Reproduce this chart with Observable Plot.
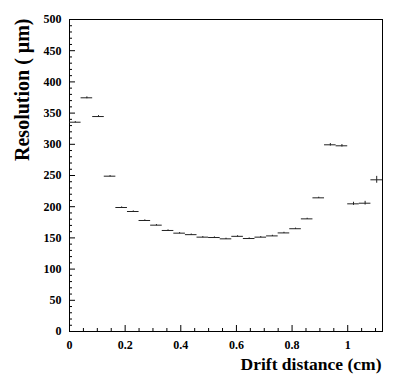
<!DOCTYPE html>
<html>
<head>
<meta charset="utf-8">
<script src="https://cdn.jsdelivr.net/npm/d3@7"></script>
<script src="https://cdn.jsdelivr.net/npm/@observablehq/plot@0.6"></script>
<style>
  html, body { margin: 0; padding: 0; background: #fff; }
  svg text { font-family: "Liberation Serif", "Times New Roman", serif; font-weight: bold; }
</style>
</head>
<body>
<div id="chart"></div>
<script>
// Bin centres (cm) of the drift-distance histogram, bin half-width 0.0208 cm
const binCenters = [0.0208, 0.0625, 0.1042, 0.1458, 0.1875, 0.2292, 0.2708, 0.3125, 0.3542,
  0.3958, 0.4375, 0.4792, 0.5208, 0.5625, 0.6042, 0.6458, 0.6875, 0.7292, 0.7708,
  0.8125, 0.8542, 0.8958, 0.9375, 0.9792, 1.0208, 1.0625, 1.1042];
const binHalfWidth = 0.02083;
// Resolution (µm)
const resolution = [335.4, 374.5, 344.5, 248.9, 198.7, 192.3, 177.9, 170.4, 161.9,
  157.6, 155.2, 151.2, 150.6, 148.5, 152.5, 149.0, 151.2, 153.2, 158.0,
  164.7, 180.5, 214.2, 299.2, 297.6, 204.6, 205.6, 243.1];
// Statistical error (µm)
const resError = [1, 1.5, 1.5, 1, 1, 1, 1, 1, 1,
  1, 1, 1, 1, 1, 1, 1, 1, 1, 1,
  1, 1, 1, 2, 2, 2.5, 3, 5.5];

const xMajorTicks = [0, 0.2, 0.4, 0.6, 0.8, 1];
const xMinorTicks = [0.05, 0.1, 0.15, 0.25, 0.3, 0.35, 0.45, 0.5, 0.55, 0.65, 0.7, 0.75, 0.85, 0.9, 0.95, 1.05, 1.1];
const yMajorTicks = [0, 50, 100, 150, 200, 250, 300, 350, 400, 450, 500];
const yMinorTicks = [10, 20, 30, 40, 60, 70, 80, 90, 110, 120, 130, 140, 160, 170, 180, 190,
  210, 220, 230, 240, 260, 270, 280, 290, 310, 320, 330, 340, 360, 370, 380, 390,
  410, 420, 430, 440, 460, 470, 480, 490];

const data = binCenters.map((c, i) => ({
  x: c, x1: c - binHalfWidth, x2: c + binHalfWidth,
  y: resolution[i], e: resError[i]
}));

const chart = Plot.plot({
  width: 399,
  height: 380,
  marginLeft: 69,
  marginRight: 17,
  marginTop: 19,
  marginBottom: 49,
  style: {fontFamily: "'Liberation Serif', serif", fontSize: "12px", fontWeight: "bold", background: "#fff", color: "#000"},
  x: {domain: [0, 1.125]},
  y: {domain: [0, 500]},
  marks: [
    Plot.frame({stroke: "#000", strokeWidth: 1}),
    Plot.axisX(xMajorTicks, {tickSize: -6, tickPadding: 15, label: null, tickFormat: d => d3.format("~g")(d), fontSize: 12, fontWeight: "bold"}),
    Plot.axisX(xMinorTicks, {tickSize: -3, tickFormat: () => "", label: null}),
    Plot.axisY(yMajorTicks, {tickSize: -6, tickPadding: 14, label: null, fontSize: 12, fontWeight: "bold"}),
    Plot.axisY(yMinorTicks, {tickSize: -3, tickFormat: () => "", label: null}),
    Plot.ruleY(data, {y: "y", x1: "x1", x2: "x2", stroke: "#222", strokeWidth: 1}),
    Plot.ruleX(data, {x: "x", y1: d => d.y - d.e, y2: d => d.y + d.e, stroke: "#222", strokeWidth: 1}),
    Plot.text(["Drift distance (cm)"], {frameAnchor: "bottom-right", dy: 38, dx: -1, text: d => d, fontSize: 17.5, fontWeight: "bold", textAnchor: "end"}),
    Plot.text(["Resolution ( \u03bcm)"], {frameAnchor: "top-left", dx: -55, dy: -1, rotate: -90, text: d => d, fontSize: 20, fontWeight: "bold", textAnchor: "end"})
  ]
});
document.getElementById("chart").appendChild(chart);
</script>
</body>
</html>
